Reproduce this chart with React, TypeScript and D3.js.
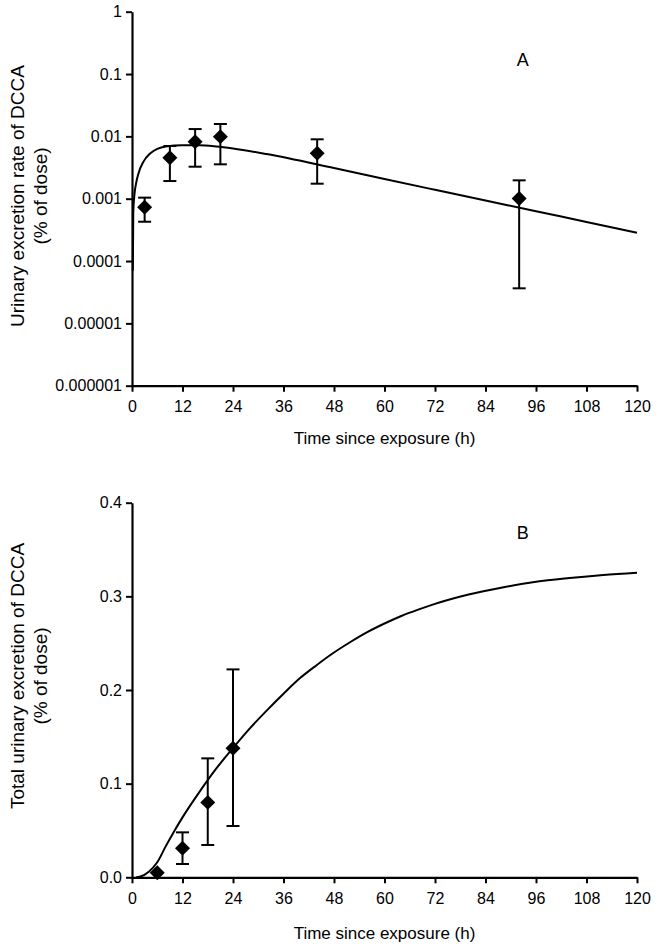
import React, { useEffect, useRef } from "react";
import * as d3 from "d3";

// ---------- Data ----------
const xTicks = [0, 12, 24, 36, 48, 60, 72, 84, 96, 108, 120];

// Panel A: urinary excretion rate (log scale)
const yTicksA = [1e-6, 1e-5, 1e-4, 1e-3, 1e-2, 1e-1, 1];
const yTickLabelsA = ["0.000001", "0.00001", "0.0001", "0.001", "0.01", "0.1", "1"];
const obsTimeA = [3, 9, 15, 21, 44, 92];
const obsValA = [0.00073, 0.00455, 0.0082, 0.0099, 0.00535, 0.00101];
const obsLowA = [0.000427, 0.00192, 0.00326, 0.00356, 0.00174, 0.0000365];
const obsHighA = [0.00104, 0.007, 0.0131, 0.0158, 0.00897, 0.00197];
const fitTimeA = [0.2, 0.3, 0.6, 1, 1.5, 2.7, 4.3, 6, 8, 12, 16, 20, 24, 32, 48, 60, 72, 84, 96, 108, 120];
const fitValA = [0.00007, 0.0006, 0.0012, 0.0018, 0.0025, 0.0039, 0.0053, 0.0063, 0.0069, 0.0072, 0.0072, 0.0069, 0.0064, 0.0052, 0.0031, 0.00207, 0.00139, 0.000935, 0.00063, 0.000423, 0.000285];

// Panel B: total urinary excretion (linear)
const yTicksB = [0, 0.1, 0.2, 0.3, 0.4];
const yTickLabelsB = ["0.0", "0.1", "0.2", "0.3", "0.4"];
const obsTimeB = [6, 12, 18, 24];
const obsValB = [0.0049, 0.031, 0.08, 0.1377];
const obsLowB = [null, 0.0142, 0.0345, 0.0548];
const obsHighB = [null, 0.048, 0.127, 0.222];
const fitTimeB = [1, 2, 4, 6, 8, 10, 12, 16, 20, 24, 28, 32, 36, 40, 44, 48, 52, 56, 60, 64, 68, 72, 80, 88, 96, 104, 112, 120];
const fitValB = [0, 0.0008, 0.006, 0.016, 0.033, 0.049, 0.064, 0.091, 0.116, 0.138, 0.159, 0.178, 0.196, 0.213, 0.227, 0.24, 0.2515, 0.262, 0.271, 0.279, 0.2858, 0.292, 0.302, 0.3095, 0.3155, 0.3195, 0.3228, 0.3253];

const xTitle = "Time since exposure (h)";
const yTitleA = ["Urinary excretion rate of DCCA", "(% of dose)"];
const yTitleB = ["Total urinary excretion of DCCA", "(% of dose)"];

// ---------- Layout ----------
const W = 669;
const H = 951;
const FONT = "'Liberation Sans', Arial, Helvetica, sans-serif";
const X0 = 132;
const X1 = 637;

type PanelProps = {
  yScale: any;
  yTicks: number[];
  yLabels: string[];
  obsT: number[];
  obsV: number[];
  obsLo: (number | null)[];
  obsHi: (number | null)[];
  fitT: number[];
  fitV: number[];
  title: string[];
  letter: string;
  letterY: number;
  xLabelY: number;
  titleCenterY: number;
};

function Panel(p: PanelProps) {
  const xAxisRef = useRef<SVGGElement>(null);
  const yAxisRef = useRef<SVGGElement>(null);
  const x = d3.scaleLinear().domain([0, 120]).range([X0, X1]);
  const y = p.yScale;
  const yBottom = y.range()[0];

  useEffect(() => {
    const xa = d3
      .axisBottom(x)
      .tickValues(xTicks)
      .tickSize(6)
      .tickSizeOuter(0)
      .tickPadding(9)
      .tickFormat((d: any) => String(d));
    const gx = d3.select(xAxisRef.current!);
    gx.call(xa as any);
    gx.selectAll("path").attr("stroke", "#000").attr("stroke-width", 2.2);
    gx.selectAll("line").attr("stroke", "#000").attr("stroke-width", 2);
    gx.selectAll("text").attr("font-family", FONT).attr("font-size", 16).attr("fill", "#000");
    gx.attr("font-family", null).attr("font-size", null);

    const ya = d3
      .axisLeft(y)
      .tickValues(p.yTicks)
      .tickSize(6)
      .tickSizeOuter(0)
      .tickPadding(4)
      .tickFormat((d: any, i: number) => p.yLabels[i]);
    const gy = d3.select(yAxisRef.current!);
    gy.call(ya as any);
    gy.selectAll("path").attr("stroke", "#000").attr("stroke-width", 2.2);
    gy.selectAll("line").attr("stroke", "#000").attr("stroke-width", 2);
    gy.selectAll("text").attr("font-family", FONT).attr("font-size", 16).attr("fill", "#000");
    gy.attr("font-family", null).attr("font-size", null);
  }, []);

  const line = d3
    .line<number>()
    .x((_, i) => x(p.fitT[i]))
    .y((d) => y(d))
    .curve(d3.curveMonotoneX);

  const diamond = d3.symbol().type(d3.symbolSquare).size(112)();
  const cap = 6.5;

  return (
    <g>
      <path d={line(p.fitV) || ""} fill="none" stroke="#000" strokeWidth={2} />
      {p.obsT.map((t, i) => {
        const cx = x(t);
        const lo = p.obsLo[i];
        const hi = p.obsHi[i];
        return (
          <g key={i}>
            {lo != null && hi != null && (
              <g stroke="#000" strokeWidth={2}>
                <line x1={cx} x2={cx} y1={y(lo)} y2={y(hi)} />
                <line x1={cx - cap} x2={cx + cap} y1={y(lo)} y2={y(lo)} />
                <line x1={cx - cap} x2={cx + cap} y1={y(hi)} y2={y(hi)} />
              </g>
            )}
            <path d={diamond || ""} transform={`translate(${cx},${y(p.obsV[i])}) rotate(45)`} fill="#000" />
          </g>
        );
      })}
      <g ref={xAxisRef} transform={`translate(0,${yBottom})`} />
      <g ref={yAxisRef} transform={`translate(${X0},0)`} />
      <text x={(X0 + X1) / 2 + 0} y={p.xLabelY} textAnchor="middle" fontFamily={FONT} fontSize={17}>
        {xTitle}
      </text>
      <g fontFamily={FONT} fontSize={19} textAnchor="middle">
        <text transform={`translate(17,${p.titleCenterY}) rotate(-90)`} dominantBaseline="central">
          {p.title[0]}
        </text>
        <text transform={`translate(40,${p.titleCenterY}) rotate(-90)`} dominantBaseline="central">
          {p.title[1]}
        </text>
      </g>
      <text x={522.7} y={p.letterY} textAnchor="middle" dominantBaseline="central" fontFamily={FONT} fontSize={18}>
        {p.letter}
      </text>
    </g>
  );
}

export default function App() {
  const yA = d3.scaleLog().domain([1e-6, 1]).range([385.7, 11.7]);
  const yB = d3.scaleLinear().domain([0, 0.4]).range([877.3, 502.7]);
  return (
    <svg
      width={W}
      height={H}
      viewBox={`0 0 ${W} ${H}`}
      style={{ position: "absolute", left: 0, top: 0, background: "#fff" }}
    >
      <rect x={0} y={0} width={W} height={H} fill="#fff" />
      <Panel
        yScale={yA}
        yTicks={yTicksA}
        yLabels={yTickLabelsA}
        obsT={obsTimeA}
        obsV={obsValA}
        obsLo={obsLowA}
        obsHi={obsHighA}
        fitT={fitTimeA}
        fitV={fitValA}
        title={yTitleA}
        letter="A"
        letterY={60}
        xLabelY={444}
        titleCenterY={196}
      />
      <Panel
        yScale={yB}
        yTicks={yTicksB}
        yLabels={yTickLabelsB}
        obsT={obsTimeB}
        obsV={obsValB}
        obsLo={obsLowB}
        obsHi={obsHighB}
        fitT={fitTimeB}
        fitV={fitValB}
        title={yTitleB}
        letter="B"
        letterY={533}
        xLabelY={939}
        titleCenterY={676}
      />
    </svg>
  );
}
